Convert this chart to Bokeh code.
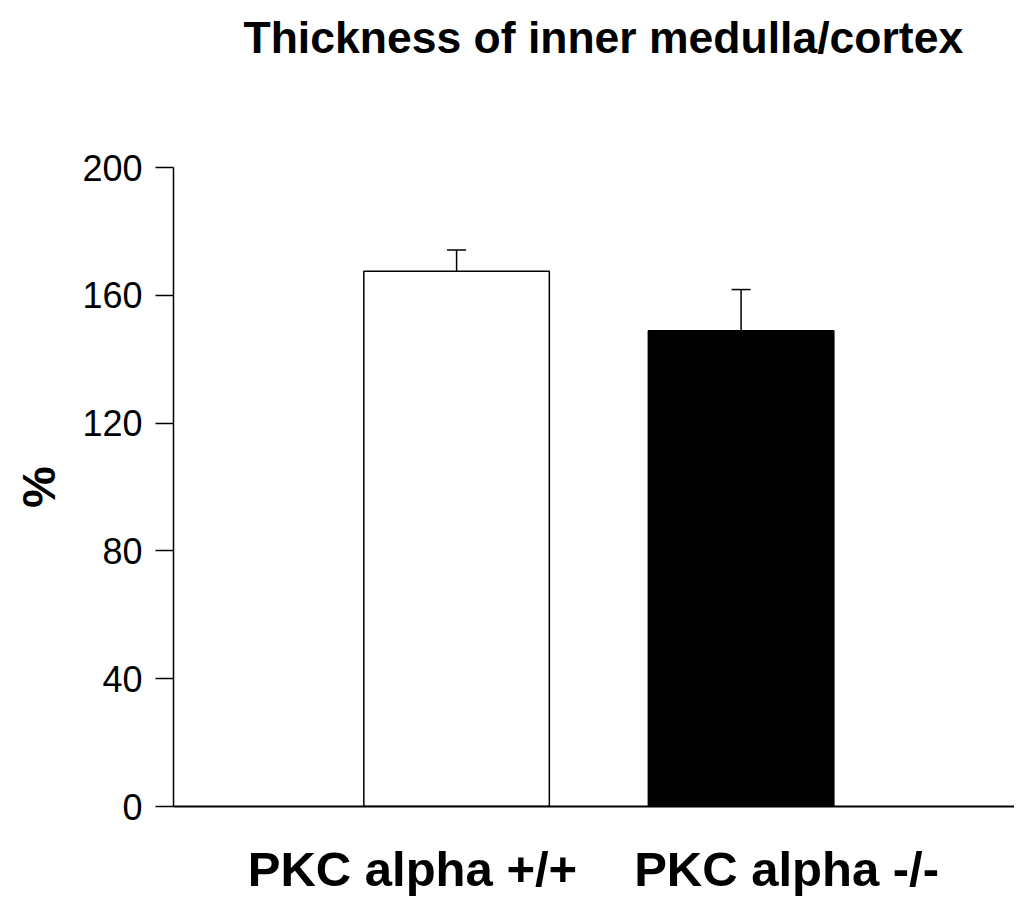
from bokeh.plotting import figure
from bokeh.models import Range1d, FixedTicker, Whisker, TeeHead, ColumnDataSource
from bokeh.embed import file_html
from bokeh.resources import INLINE

# data
title_text = "Thickness of inner medulla/cortex"
categories = ["PKC alpha +/+", "PKC alpha -/-"]
means = [167.5, 148.9]
errors = [6.7, 12.9]
colors = ["white", "black"]
y_ticks = [0, 40, 80, 120, 160, 200]

positions = [1, 2]
label_positions = [0.845, 2.16]

src = ColumnDataSource(dict(
    x=positions,
    top=means,
    upper=[m + e for m, e in zip(means, errors)],
    color=colors,
))

p = figure(width=1014, height=900, output_backend="svg", toolbar_location=None,
           x_range=Range1d(0.005, 2.961), y_range=Range1d(0, 200),
           min_border_left=173, min_border_right=0, min_border_top=167,
           min_border_bottom=94)

# trailing blank lines keep the title near the top of the page
p.title.text = title_text + "\n\n"
p.title.text_font = "Liberation Sans"
p.title.text_font_style = "bold"
p.title.text_font_size = "44.5px"
p.title.text_color = "black"
p.title.align = "left"
p.title.offset = 70
p.title.vertical_align = "top"
p.title.standoff = 12

p.outline_line_color = None
p.grid.grid_line_color = None
p.background_fill_color = "white"
p.border_fill_color = "white"

p.vbar(x="x", top="top", bottom=0, width=0.652, fill_color="color",
       line_color="black", line_width=1.5, source=src)

w = Whisker(base="x", lower="top", upper="upper", source=src,
            line_color="black", line_width=1.5,
            upper_head=TeeHead(size=19, line_color="black", line_width=1.5),
            lower_head=None)
p.add_layout(w)

# y axis
p.yaxis.ticker = FixedTicker(ticks=y_ticks)
p.yaxis.minor_tick_line_color = None
p.yaxis.major_tick_in = 0
p.yaxis.major_tick_out = 18
p.yaxis.major_tick_line_color = "black"
p.yaxis.major_tick_line_width = 1.5
p.yaxis.axis_line_color = "black"
p.yaxis.axis_line_width = 1.5
p.yaxis.major_label_text_font = "Liberation Sans"
p.yaxis.major_label_text_font_size = "36px"
p.yaxis.major_label_text_color = "black"
p.yaxis.major_label_standoff = 13
p.yaxis.axis_label = "%"
p.yaxis.axis_label_text_font = "Liberation Sans"
p.yaxis.axis_label_text_font_style = "bold"
p.yaxis.axis_label_text_font_size = "47px"
p.yaxis.axis_label_text_color = "black"
p.yaxis.axis_label_standoff = 14

# x axis
p.xaxis.ticker = FixedTicker(ticks=label_positions)
p.xaxis.major_label_overrides = {lp: c for lp, c in zip(label_positions, categories)}
p.xaxis.minor_tick_line_color = None
p.xaxis.major_tick_line_color = None
p.xaxis.major_tick_in = 0
p.xaxis.major_tick_out = 0
p.xaxis.axis_line_color = "black"
p.xaxis.axis_line_width = 2
p.xaxis.major_label_text_font = "Liberation Sans"
p.xaxis.major_label_text_font_style = "bold"
p.xaxis.major_label_text_font_size = "49px"
p.xaxis.major_label_text_color = "black"
p.xaxis.major_label_standoff = 35

open("out.html", "w").write(file_html(p, INLINE))
